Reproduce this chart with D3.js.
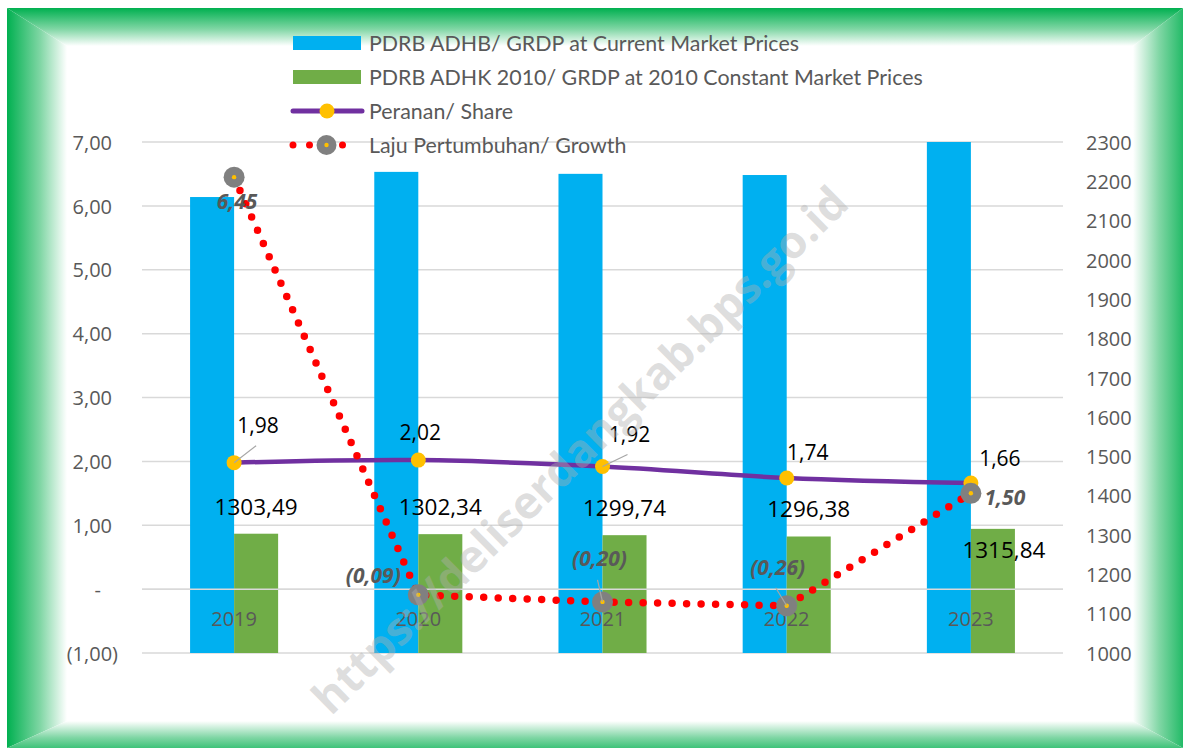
<!DOCTYPE html>
<html>
<head>
<meta charset="utf-8">
<script src="https://cdn.jsdelivr.net/npm/d3@7"></script>
<style>
  body { margin: 0; background: #fff; }
  svg { display: block; }
</style>
</head>
<body>
<svg></svg>
<script>
const width = 1183;
const height = 748;

// data
const years = ['2019', '2020', '2021', '2022', '2023'];
const adhb = [2160, 2224, 2219, 2216, 2380];
const adhk = [1303.49, 1302.34, 1299.74, 1296.38, 1315.84];
const share = [1.98, 2.02, 1.92, 1.74, 1.66];
const growth = [6.45, -0.09, -0.20, -0.26, 1.50];
const leftTicks = [-1, 0, 1, 2, 3, 4, 5, 6, 7];
const rightTicks = [1000, 1100, 1200, 1300, 1400, 1500, 1600, 1700, 1800, 1900, 2000, 2100, 2200, 2300];
const legendLabels = [
  'PDRB ADHB/ GRDP at Current Market Prices',
  'PDRB ADHK 2010/ GRDP at 2010 Constant Market Prices',
  'Peranan/ Share',
  'Laju Pertumbuhan/ Growth'
];

// hand-moved data labels (offsets from the point, in px)
const shareNudge = [[24, -30], [2, -20], [27, -24], [21, -18], [29, -17]];
const growthNudge = [[3, 32], [-45, -12], [-3, -36], [-9, -31], [34, 12]];
const adhkNudge = [[0, -19], [0, -19], [0, -19], [0, -19], [11, 29]];

const plot = {left: 142, right: 1063, top: 142, bottom: 653};
const grey = '#595959';
const numFont = "'Open Sans', sans-serif";
const txtFont = "Lato, 'Open Sans', sans-serif";

const svg = d3.select('svg')
    .attr('width', width)
    .attr('height', height);

const defs = svg.append('defs');

// ---- green bevel frame ----
const frame = {x0: 7, y0: 8, x1: 1183, y1: 748, l: 67, t: 46, r: 1133, b: 721};
const grad = (id, x1, y1, x2, y2) => {
  const g = defs.append('linearGradient').attr('id', id)
    .attr('gradientUnits', 'userSpaceOnUse')
    .attr('x1', x1).attr('y1', y1).attr('x2', x2).attr('y2', y2);
  g.append('stop').attr('offset', 0).attr('stop-color', '#00b050');
  g.append('stop').attr('offset', 0.55).attr('stop-color', '#7fd6a4');
  g.append('stop').attr('offset', 1).attr('stop-color', '#ffffff');
};
grad('gL', frame.x0, 0, frame.l, 0);
grad('gT', 0, frame.y0, 0, frame.t);
grad('gR', 1192, 0, frame.r, 0);
grad('gB', 0, 758, 0, frame.b);

const f = frame;
const sides = [
  {id: 'gL', pts: [[f.x0, f.y0], [f.l, f.t], [f.l, f.b], [f.x0, f.y1]]},
  {id: 'gT', pts: [[f.x0, f.y0], [f.x1, f.y0], [f.r, f.t], [f.l, f.t]]},
  {id: 'gR', pts: [[f.x1, f.y0], [f.x1, f.y1], [f.r, f.b], [f.r, f.t]]},
  {id: 'gB', pts: [[f.x0, f.y1], [f.x1, f.y1], [f.r, f.b], [f.l, f.b]]}
];
svg.append('g').selectAll('polygon').data(sides)
  .enter().append('polygon')
    .attr('points', d => d.pts.map(p => p.join(',')).join(' '))
    .attr('fill', d => `url(#${d.id})`);

// ---- scales ----
const xScale = d3.scaleBand()
    .domain(years)
    .range([plot.left, plot.right])
    .paddingInner(0.522)
    .paddingOuter(0.261);
const xSub = d3.scaleBand()
    .domain(['adhb', 'adhk'])
    .range([0, xScale.bandwidth()]);
const cx = d => xScale(d) + xScale.bandwidth() / 2;

const yLeft = d3.scaleLinear().domain([-1, 7]).range([plot.bottom, plot.top]);
const yRight = d3.scaleLinear().domain([1000, 2300]).range([plot.bottom, plot.top]);

const locale = d3.formatLocale({decimal: ',', thousands: '.', grouping: [3], currency: ['', '']});
const f2 = locale.format('.2f');

// ---- gridlines ----
svg.append('g').selectAll('line').data(leftTicks)
  .enter().append('line')
    .attr('x1', plot.left).attr('x2', plot.right)
    .attr('y1', d => yLeft(d)).attr('y2', d => yLeft(d))
    .attr('stroke', '#d9d9d9').attr('stroke-width', 1.5);

// ---- axis labels ----
const leftAxis = d3.axisLeft(yLeft)
    .tickValues(leftTicks)
    .tickSize(0)
    .tickPadding(0)
    .tickFormat(d => d === 0 ? '-' : d < 0 ? `(${f2(-d)})` : f2(d));
svg.append('g')
    .attr('transform', 'translate(112,0)')
    .call(leftAxis)
    .call(g => g.select('.domain').remove())
    .call(g => g.selectAll('text')
      .attr('fill', grey)
      .attr('font-family', numFont)
      .attr('font-size', 20)
      .attr('dy', '0.36em')
      .attr('dx', d => d === 0 ? -11 : d < 0 ? 6 : 0));

const rightAxis = d3.axisRight(yRight)
    .tickValues(rightTicks)
    .tickSize(0)
    .tickPadding(0)
    .tickFormat(d3.format('d'));
svg.append('g')
    .attr('transform', 'translate(1086,0)')
    .call(rightAxis)
    .call(g => g.select('.domain').remove())
    .call(g => g.selectAll('text')
      .attr('fill', grey)
      .attr('font-family', numFont)
      .attr('font-size', 20)
      .attr('dy', '0.36em'));

// ---- bars ----
defs.append('clipPath').attr('id', 'plotClip')
  .append('rect')
    .attr('x', plot.left).attr('y', plot.top)
    .attr('width', plot.right - plot.left)
    .attr('height', plot.bottom - plot.top);

const bars = svg.append('g').attr('clip-path', 'url(#plotClip)');
bars.selectAll('rect.adhb').data(years)
  .enter().append('rect').attr('class', 'adhb')
    .attr('x', d => xScale(d) + xSub('adhb'))
    .attr('width', xSub.bandwidth())
    .attr('y', (d, i) => yRight(adhb[i]))
    .attr('height', (d, i) => yRight(1000) - yRight(adhb[i]))
    .attr('fill', '#00b0f0');
bars.selectAll('rect.adhk').data(years)
  .enter().append('rect').attr('class', 'adhk')
    .attr('x', d => xScale(d) + xSub('adhk'))
    .attr('width', xSub.bandwidth())
    .attr('y', (d, i) => yRight(adhk[i]))
    .attr('height', (d, i) => yRight(1000) - yRight(adhk[i]))
    .attr('fill', '#70ad47');

// gridline at zero passes over bars in the original
svg.append('line')
    .attr('x1', plot.left).attr('x2', plot.right)
    .attr('y1', yLeft(0)).attr('y2', yLeft(0))
    .attr('stroke', '#d9d9d9').attr('stroke-width', 1.5);

// category labels sit on the zero line
svg.append('g').selectAll('text').data(years)
  .enter().append('text')
    .attr('x', d => cx(d))
    .attr('y', yLeft(0) + 37)
    .attr('text-anchor', 'middle')
    .attr('fill', grey)
    .attr('font-family', numFont)
    .attr('font-size', 20)
    .text(d => d);

// ---- share line ----
const shareLine = d3.line()
    .x((d, i) => cx(years[i]))
    .y(d => yLeft(d))
    .curve(d3.curveCatmullRom.alpha(0.5));
svg.append('path')
    .datum(share)
    .attr('d', shareLine)
    .attr('fill', 'none')
    .attr('stroke', '#7030a0')
    .attr('stroke-width', 4.5)
    .attr('stroke-linecap', 'round');
svg.append('g').selectAll('circle').data(share)
  .enter().append('circle')
    .attr('cx', (d, i) => cx(years[i]))
    .attr('cy', d => yLeft(d))
    .attr('r', 7.5)
    .attr('fill', '#ffc000');

// ---- growth line ----
const growthLine = d3.line()
    .x((d, i) => cx(years[i]))
    .y(d => yLeft(d));
svg.append('path')
    .datum(growth)
    .attr('d', growthLine)
    .attr('fill', 'none')
    .attr('stroke', '#ff0000')
    .attr('stroke-width', 7.5)
    .attr('stroke-linecap', 'round')
    .attr('stroke-dasharray', '0 14.5');
const gm = svg.append('g').selectAll('g').data(growth)
  .enter().append('g')
    .attr('transform', (d, i) => `translate(${cx(years[i])},${yLeft(d)})`);
gm.append('circle').attr('r', 10.5).attr('fill', '#808080');
gm.append('circle').attr('r', 2.2).attr('fill', '#ffc000');

// ---- data labels ----
// leader lines
const leaders = [
  {i: 0, s: 'share', from: [22, -17]},
  {i: 2, s: 'share', from: [25, -12]},
  {i: 2, s: 'growth', from: [-5, -22]},
  {i: 3, s: 'growth', from: [-11, -18]}
];
svg.append('g').selectAll('line').data(leaders)
  .enter().append('line')
    .attr('x1', d => cx(years[d.i]) + d.from[0])
    .attr('y1', d => yLeft(d.s === 'share' ? share[d.i] : growth[d.i]) + d.from[1])
    .attr('x2', d => cx(years[d.i]))
    .attr('y2', d => yLeft(d.s === 'share' ? share[d.i] : growth[d.i]))
    .attr('stroke', '#a6a6a6')
    .attr('stroke-width', 1.2);

svg.append('g').selectAll('text').data(share)
  .enter().append('text')
    .attr('x', (d, i) => cx(years[i]) + shareNudge[i][0])
    .attr('y', (d, i) => yLeft(d) + shareNudge[i][1])
    .attr('text-anchor', 'middle')
    .attr('font-family', numFont)
    .attr('font-size', 21)
    .attr('fill', '#000')
    .text(d => f2(d));

svg.append('g').selectAll('text').data(growth)
  .enter().append('text')
    .attr('x', (d, i) => cx(years[i]) + growthNudge[i][0])
    .attr('y', (d, i) => yLeft(d) + growthNudge[i][1])
    .attr('text-anchor', 'middle')
    .attr('font-family', numFont)
    .attr('font-size', 21)
    .attr('font-weight', 'bold')
    .attr('font-style', 'italic')
    .attr('fill', grey)
    .text(d => d < 0 ? `(${f2(-d)})` : f2(d));

svg.append('g').selectAll('text').data(adhk)
  .enter().append('text')
    .attr('x', (d, i) => xScale(years[i]) + xSub('adhk') + xSub.bandwidth() / 2 + adhkNudge[i][0])
    .attr('y', (d, i) => yRight(d) + adhkNudge[i][1])
    .attr('text-anchor', 'middle')
    .attr('font-family', numFont)
    .attr('font-size', 22.5)
    .attr('fill', '#000')
    .text(d => f2(d));

// ---- legend ----
const legend = svg.append('g').attr('transform', 'translate(293,0)');
const rowY = [43, 77, 111, 145];
const items = legend.selectAll('g').data(legendLabels)
  .enter().append('g')
    .attr('transform', (d, i) => `translate(0,${rowY[i]})`);
items.append('text')
    .attr('x', 76)
    .attr('dy', '0.36em')
    .attr('font-family', txtFont)
    .attr('font-size', 21.4)
    .attr('fill', grey)
    .text(d => d);

const it = items.nodes().map(n => d3.select(n));
it[0].append('rect').attr('x', 0).attr('y', -7).attr('width', 68).attr('height', 14).attr('fill', '#00b0f0');
it[1].append('rect').attr('x', 0).attr('y', -7).attr('width', 68).attr('height', 14).attr('fill', '#70ad47');
it[2].append('line').attr('x1', 0).attr('x2', 69).attr('stroke', '#7030a0').attr('stroke-width', 5).attr('stroke-linecap', 'round');
it[2].append('circle').attr('cx', 34).attr('r', 7.5).attr('fill', '#ffc000');
it[3].append('line').attr('x1', 0).attr('x2', 66).attr('stroke', '#ff0000').attr('stroke-width', 7)
    .attr('stroke-linecap', 'round').attr('stroke-dasharray', '0 16.5');
it[3].append('circle').attr('cx', 33.5).attr('r', 10).attr('fill', '#808080');
it[3].append('circle').attr('cx', 33.5).attr('r', 2.2).attr('fill', '#ffc000');

// ---- watermark ----
svg.append('text')
    .attr('transform', 'translate(580,450) rotate(-44.5)')
    .attr('text-anchor', 'middle')
    .attr('dy', '0.35em')
    .attr('font-family', numFont)
    .attr('font-weight', 'bold')
    .attr('font-size', 45)
    .attr('fill', '#b0b0b0')
    .attr('fill-opacity', 0.42)
    .text('https://deliserdangkab.bps.go.id');
</script>
</body>
</html>
